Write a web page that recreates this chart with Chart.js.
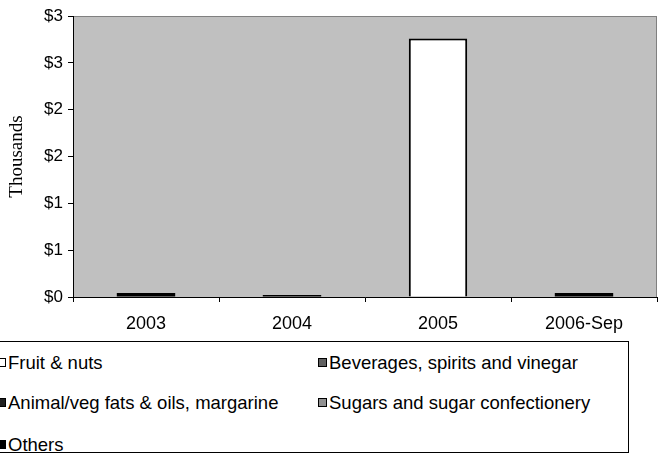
<!DOCTYPE html>
<html>
<head>
<meta charset="utf-8">
<script src="https://cdn.jsdelivr.net/npm/chart.js@4"></script>
<style>
  body { margin: 0; width: 665px; height: 465px; overflow: hidden; background: #fff; font-family: 'Liberation Sans', Arial, sans-serif; }
  #wrap { position: absolute; left: 0; top: 0; }
  #legend { position: absolute; left: -10px; top: 341px; width: 637px; height: 110px; border: 1px solid #000; }
  .item { position: absolute; font-size: 18.5px; color: #000; white-space: nowrap; line-height: 20px; }
  .sw { display: inline-block; width: 7px; height: 7px; border: 1px solid #000; margin-right: 2px; vertical-align: 2px; }
</style>
</head>
<body>
<div id="wrap"><canvas id="myChart" width="665" height="340"></canvas></div>
<div id="legend"></div>
<script>
// values in thousands of dollars
const years = ['2003', '2004', '2005', '2006-Sep'];
const seriesNames = ['Fruit & nuts', 'Beverages, spirits and vinegar', 'Animal/veg fats & oils, margarine', 'Sugars and sugar confectionery', 'Others'];
const fruitNuts = [0, 0, 2.76, 0];
const beverages = [0, 0, 0, 0];
const animalVegFats = [0, 0, 0, 0];
const sugars = [0, 0, 0, 0];
const others = [0.043, 0.022, 0, 0.043];
const yTickLabels = ['$0', '$1', '$1', '$2', '$2', '$3', '$3'];

const colors = ['#ffffff', '#606060', '#202020', '#909090', '#000000'];
const allValues = [fruitNuts, beverages, animalVegFats, sugars, others];

// 👉 plot background
const plotBg = {
  id: 'plotBg',
  beforeDraw(chart) {
    const a = chart.chartArea;
    const ctx = chart.ctx;
    ctx.save();
    ctx.fillStyle = '#c0c0c0';
    ctx.fillRect(a.left, a.top, a.right - a.left, a.bottom - a.top);
    ctx.strokeStyle = '#808080';
    ctx.lineWidth = 1;
    ctx.strokeRect(a.left + 0.5, a.top + 0.5, a.right - a.left - 1, a.bottom - a.top);
    ctx.restore();
  }
};

let datasets = seriesNames.map((name, i) => ({
  label: name,
  data: allValues[i],
  backgroundColor: colors[i],
  borderColor: '#000',
  borderWidth: i === 0 ? 2 : 0,
  barPercentage: 0.4,
  categoryPercentage: 1
}));

const sansFont = "'Liberation Sans', Arial";

new Chart(document.getElementById('myChart'), {
  type: 'bar',
  data: { labels: years, datasets: datasets },
  plugins: [plotBg],
  options: {
    responsive: false,
    devicePixelRatio: 1,
    animation: false,
    layout: { padding: { left: 0, top: 16, right: 8, bottom: 0 } },
    plugins: { legend: { display: false }, tooltip: { enabled: false } },
    scales: {
      x: {
        stacked: true,
        afterFit: s => { s.height = 43; },
        border: { display: true, color: '#000' },
        grid: { display: true, drawOnChartArea: false, offset: true, tickLength: 5, color: '#000' },
        ticks: { color: '#000', padding: 11, font: { family: sansFont, size: 18 } }
      },
      y: {
        stacked: true,
        min: 0,
        max: 3,
        afterFit: s => { s.width = 73; },
        border: { display: true, color: '#000' },
        grid: { display: true, drawOnChartArea: false, tickLength: 5, color: '#000' },
        ticks: {
          stepSize: 0.5,
          color: '#000',
          padding: 5,
          font: { family: sansFont, size: 17 },
          callback: (v, i) => yTickLabels[i]
        },
        title: {
          display: true,
          text: 'Thousands',
          color: '#000',
          padding: { top: 6, bottom: 0 },
          font: { family: "'Liberation Serif', 'Times New Roman'", size: 19 }
        }
      }
    }
  }
});

// 👉 Legend
const legendPos = [[6, 11], [327, 11], [6, 51], [327, 51], [6, 93]];
let legend = document.getElementById('legend');
seriesNames.forEach((name, i) => {
  let div = document.createElement('div');
  div.className = 'item';
  div.style.left = legendPos[i][0] + 'px';
  div.style.top = legendPos[i][1] + 'px';
  div.innerHTML = `<span class="sw" style="background:${colors[i]}"></span>${name}`;
  legend.appendChild(div);
});
</script>
</body>
</html>
